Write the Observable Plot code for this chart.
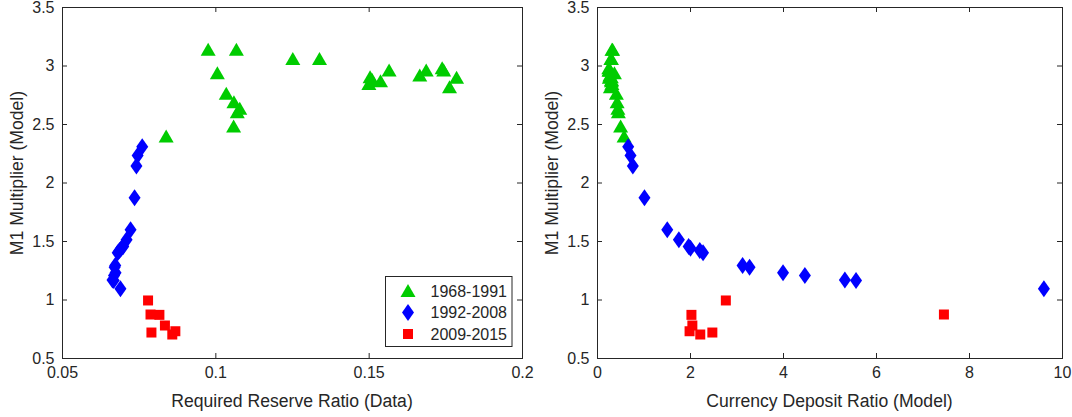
<!DOCTYPE html>
<html><head><meta charset="utf-8">
<script src="https://cdn.jsdelivr.net/npm/d3@7"></script>
<script src="https://cdn.jsdelivr.net/npm/@observablehq/plot@0.6"></script>
<style>
body{margin:0;background:#fff}
#wrap{display:flex;width:1072px;height:417px}
svg{font-family:"Liberation Sans",Arial,Helvetica,sans-serif}
</style>
</head><body><div id="wrap"></div><script>
// ---- data ----
const periods = ["1968-1991", "1992-2008", "2009-2015"];
// 1968-1991
const rrGreen = [0.0975,0.1067,0.1251,0.1338,0.1005,0.1034,0.1059,0.1078,0.1070,0.1058,0.0838,0.1503,0.1499,0.1537,0.1565,0.1665,0.1686,0.1738,0.1743,0.1785,0.1762,0.1510];
const mGreen  = [3.138,3.138,3.06,3.06,2.938,2.762,2.69,2.634,2.605,2.483,2.397,2.904,2.847,2.870,2.962,2.919,2.962,2.981,2.962,2.899,2.819,2.88];
const cdGreen = [0.325,0.311,0.300,0.287,0.364,0.406,0.423,0.438,0.449,0.497,0.572,0.296,0.310,0.299,0.273,0.268,0.255,0.243,0.247,0.254,0.277,0.301];
// 1992-2008
const rrBlue = [0.0760,0.0745,0.0741,0.0735,0.0722,0.0709,0.0698,0.0692,0.0686,0.0680,0.0672,0.0670,0.0673,0.0668,0.0663,0.0667,0.0689];
const mBlue  = [2.31,2.235,2.145,1.873,1.60,1.514,1.457,1.443,1.423,1.403,1.295,1.28,1.232,1.209,1.172,1.167,1.096];
const cdBlue = [0.66,0.71,0.76,1.01,1.50,1.75,1.96,2.00,2.20,2.27,3.12,3.27,3.99,4.46,5.32,5.56,9.60];
// 2009-2015
const rrRed = [0.0779,0.0787,0.0816,0.0834,0.0868,0.0790,0.0858];
const mRed  = [0.996,0.876,0.873,0.782,0.733,0.722,0.705];
const cdRed = [2.76,7.45,2.02,2.04,1.98,2.47,2.21];
// ticks
const yTicks = [0.5,1,1.5,2,2.5,3,3.5];
const xTicksLeft = [0.05,0.1,0.15,0.2];
const xTicksRight = [0,2,4,6,8,10];

// ---- styles ----
const ink = "#262626";
const colors = ["#00cc00", "#0000ff", "#ff0000"];
const triSym = {draw(c){c.moveTo(0,-7);c.lineTo(7.5,6);c.lineTo(-7.5,6);c.closePath();}};
const diaSym = {draw(c){c.moveTo(0,-8.5);c.lineTo(6,0);c.lineTo(0,8.5);c.lineTo(-6,0);c.closePath();}};
const sqSym  = {draw(c){c.moveTo(-5,-5);c.lineTo(5,-5);c.lineTo(5,5);c.lineTo(-5,5);c.closePath();}};
const symbols = [triSym, diaSym, sqSym];

const groups = [
  rrGreen.map((v,i)=>({period:periods[0], rr:v, m:mGreen[i], cd:cdGreen[i]})),
  rrBlue.map((v,i)=>({period:periods[1], rr:v, m:mBlue[i], cd:cdBlue[i]})),
  rrRed.map((v,i)=>({period:periods[2], rr:v, m:mRed[i], cd:cdRed[i]}))
];

const H = 417, MT = 7, MB = 59;
function panel(key, xDomain, xTicks, xLabel, W, ML, MR) {
  const iw = W - ML - MR, ih = H - MT - MB;
  const fmt = d => String(d);
  const marks = [
    Plot.frame({stroke: ink, strokeWidth: 1}),
    Plot.ruleX(xTicks, {x: d=>d, stroke: ink, insetTop: ih - 5}),
    Plot.ruleX(xTicks, {x: d=>d, stroke: ink, insetBottom: ih - 5}),
    Plot.ruleY(yTicks, {y: d=>d, stroke: ink, insetRight: iw - 5}),
    Plot.ruleY(yTicks, {y: d=>d, stroke: ink, insetLeft: iw - 5}),
    Plot.axisX(xTicks, {tickSize: 0, tickPadding: 8, tickFormat: fmt, fontSize: 16, fill: ink, label: null}),
    Plot.axisY(yTicks, {tickSize: 0, tickPadding: 8, tickFormat: fmt, fontSize: 16, fill: ink, label: null})
  ];
  groups.forEach((g, i) => {
    marks.push(Plot.dot(g, {x: key, y: "m", symbol: symbols[i], fill: colors[i], stroke: "none", r: 6}));
  });
  const chart = Plot.plot({
    width: W, height: H, marginLeft: ML, marginRight: MR, marginTop: MT, marginBottom: MB,
    style: {fontFamily: '"Liberation Sans", Arial, Helvetica, sans-serif', background: "#fff", overflow: "visible"},
    x: {domain: xDomain, label: null},
    y: {domain: [0.5, 3.5], label: null},
    marks
  });
  const svg = d3.select(chart);
  svg.append("text").attr("x", ML + iw/2).attr("y", 407).attr("text-anchor", "middle")
    .attr("font-size", 17.6).attr("fill", ink).text(xLabel);
  svg.append("text").attr("transform", `translate(${ML - 39},173) rotate(-90)`).attr("text-anchor", "middle")
    .attr("font-size", 17.6).attr("fill", ink).text("M1 Multiplier (Model)");
  return chart;
}

const left = panel("rr", [0.05, 0.2], xTicksLeft, "Required Reserve Ratio (Data)", 536, 62, 14);
const right = panel("cd", [0, 10], xTicksRight, "Currency Deposit Ratio (Model)", 536, 61, 10);

// legend inside left panel
const lg = d3.select(left).append("g");
lg.append("rect").attr("x", 385.5).attr("y", 276.5).attr("width", 126.5).attr("height", 70)
  .attr("fill", "#fff").attr("stroke", ink).attr("stroke-width", 1);
periods.forEach((p, i) => {
  const cy = 291 + i * 21.5;
  const path = d3.path(); symbols[i].draw(path);
  lg.append("path").attr("d", path.toString()).attr("transform", `translate(408,${cy})`).attr("fill", colors[i]);
  lg.append("text").attr("x", 430.5).attr("y", cy).attr("dy", "0.35em").attr("text-anchor", "start")
    .attr("font-size", 16).attr("fill", ink).text(p);
});

document.getElementById("wrap").append(left, right);
</script></body></html>
